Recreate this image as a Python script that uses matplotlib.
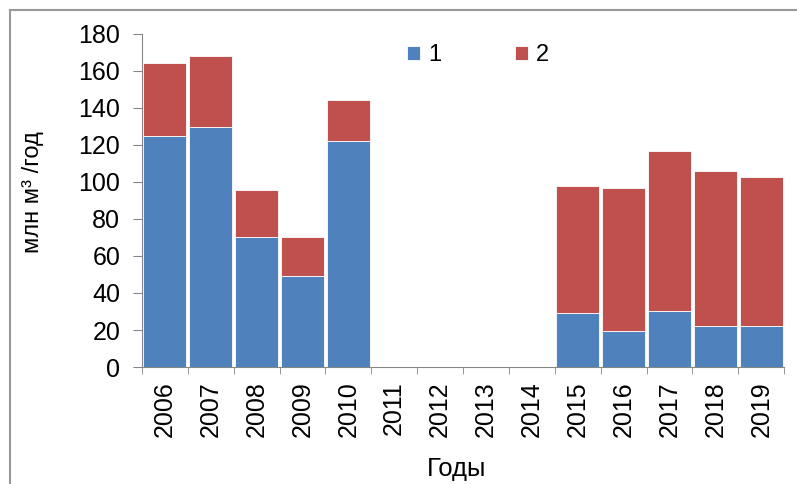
import numpy as np
import matplotlib.pyplot as plt
from matplotlib.lines import Line2D
from matplotlib.ticker import FixedLocator

plt.rcParams['font.family'] = ['Liberation Sans', 'DejaVu Sans']

# Data
years = ['2006', '2007', '2008', '2009', '2010', '2011', '2012',
         '2013', '2014', '2015', '2016', '2017', '2018', '2019']
part1 = [125, 129.5, 70, 49, 122, 0, 0, 0, 0, 29, 19.5, 30, 22, 22]
part2 = [39, 38.5, 25.5, 21, 22.5, 0, 0, 0, 0, 69, 77, 86.5, 84, 80.5]

blue = '#4f81bd'
red = '#c0504d'
grey = '#868686'

W, H = 797, 484
fig = plt.figure(figsize=(W / 100, H / 100), dpi=100)
ax = fig.add_axes([0.178, 0.2417, 0.806, 0.6883])

x = np.arange(len(years))
ax.bar(x, part1, width=0.94, color=blue, edgecolor='white', linewidth=0.6, label='1')
ax.bar(x, part2, width=0.94, bottom=part1, color=red, edgecolor='white', linewidth=0.6, label='2')

ax.set_xlim(-0.5, len(years) - 0.5)
ax.set_ylim(0, 180)
ax.set_yticks(np.arange(0, 181, 20))
ax.tick_params(axis='y', labelsize=18, length=6.5, color=grey, pad=9)

# Year labels under each bar, ticks on category boundaries
ax.set_xticks(x)
ax.set_xticklabels(years, rotation=90, fontsize=18)
ax.tick_params(axis='x', which='major', length=0, pad=10)
ax.xaxis.set_minor_locator(FixedLocator(np.arange(-0.5, len(years), 1)))
ax.tick_params(axis='x', which='minor', length=5, color=grey)

for side in ['top', 'right']:
    ax.spines[side].set_visible(False)
for side in ['left', 'bottom']:
    ax.spines[side].set_color(grey)

ax.set_ylabel('млн м³ /год', fontsize=17)
ax.yaxis.set_label_coords(-0.152, 0.525)
ax.set_xlabel('Годы', fontsize=18.5)
ax.xaxis.set_label_coords(0.49, -0.27)

ax.legend(loc='center left', bbox_to_anchor=(407 / W, 1 - 55 / H),
          bbox_transform=fig.transFigure, ncol=2, frameon=False,
          fontsize=17, handlelength=0.55, handleheight=0.55, handletextpad=0.35,
          columnspacing=3.1, borderpad=0, borderaxespad=0)

# Frame along the left and top edges of the figure
fig.add_artist(Line2D([10 / W, 10 / W], [0, 1 - 10 / H], color='#999999', lw=1.5))
fig.add_artist(Line2D([10 / W, 1], [1 - 10 / H, 1 - 10 / H], color='#999999', lw=1.5))

fig.savefig('out.png', dpi=100)
